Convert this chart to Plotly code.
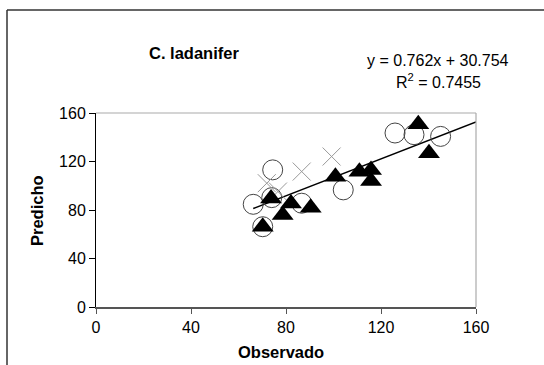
import plotly.graph_objects as go

# Data
circ_x = [66.2, 74.4, 74.0, 70.2, 86.6, 104.1, 125.9, 133.9, 145.1]
circ_y = [84.7, 113.1, 90.2, 66.2, 85.6, 96.6, 143.5, 142.1, 140.7]

cross_x = [71.9, 76.6, 86.6, 99.2]
cross_y = [102.1, 95.2, 111.7, 124.1]

tri_x = [70.2, 73.7, 78.6, 82.1, 90.4, 100.8, 110.9, 115.8, 115.8, 135.7, 140.2]
tri_y = [66.2, 89.5, 75.8, 85.4, 81.8, 107.5, 111.6, 113.0, 103.9, 150.8, 126.8]

slope = 0.762
intercept = 30.754
r2 = 0.7455

x_ticks = [0, 40, 80, 120, 160]
y_ticks = [0, 40, 80, 120, 160]

W, H = 544, 365
L, R, T, B = 96, 68, 113, 58
pw, ph = W - L - R, H - T - B

def px(x):
    return (x - L) / pw

def py(y):
    return (H - B - y) / ph

all_x = circ_x + cross_x + tri_x
line_x = [min(all_x), 160]
line_y = [slope * v + intercept for v in line_x]

FONT = "Arial, Liberation Sans, sans-serif"

fig = go.Figure()
fig.add_trace(go.Scatter(x=line_x, y=line_y, mode="lines",
                         line=dict(color="black", width=1.5), showlegend=False))
fig.add_trace(go.Scatter(x=circ_x, y=circ_y, mode="markers",
                         marker=dict(symbol="circle-open", size=20,
                                     color="#444444", line=dict(width=1)),
                         showlegend=False))
fig.add_trace(go.Scatter(x=cross_x, y=cross_y, mode="markers",
                         marker=dict(symbol="x-thin-open", size=18,
                                     color="#999999", line=dict(width=1)),
                         showlegend=False))
fig.add_trace(go.Scatter(x=tri_x, y=tri_y, mode="markers",
                         marker=dict(symbol="triangle-up", size=19,
                                     color="black", line=dict(width=0)),
                         showlegend=False))

fig.update_layout(
    width=W, height=H,
    margin=dict(l=L, r=R, t=T, b=B),
    paper_bgcolor="white", plot_bgcolor="white",
    font=dict(family=FONT, size=16, color="black"),
    xaxis=dict(range=[0, 160], tickvals=x_ticks, ticktext=[str(v) for v in x_ticks],
               showgrid=False, zeroline=False, showline=True, linecolor="#555555",
               linewidth=1.5, ticks="outside", ticklen=5, tickcolor="#555555",
               tickfont=dict(size=16)),
    yaxis=dict(range=[0, 160], tickvals=y_ticks, ticktext=[str(v) for v in y_ticks],
               showgrid=False, zeroline=False, showline=True, linecolor="black",
               linewidth=1, ticks="outside", ticklen=6, tickcolor="black",
               tickfont=dict(size=16)),
    shapes=[
        # plot-area top and right borders
        dict(type="line", xref="paper", yref="paper", x0=0, x1=1, y0=1, y1=1,
             line=dict(color="#aaaaaa", width=1.2)),
        dict(type="line", xref="paper", yref="paper", x0=1, x1=1, y0=0, y1=1,
             line=dict(color="#aaaaaa", width=1.2)),
        # outer chart frame
        dict(type="line", xref="paper", yref="paper", x0=px(7), x1=px(W + 10),
             y0=py(10), y1=py(10), line=dict(color="#333333", width=1.5)),
        dict(type="line", xref="paper", yref="paper", x0=px(7), x1=px(7),
             y0=py(10), y1=py(H + 10), line=dict(color="#333333", width=1.5)),
    ],
    annotations=[
        dict(text="<b>C. ladanifer</b>", xref="paper", yref="paper",
             x=px(194), y=py(53), showarrow=False, xanchor="center", yanchor="middle",
             font=dict(size=16.5)),
        dict(text=f"y = {slope}x + {intercept}", xref="paper", yref="paper",
             x=px(438), y=py(60), showarrow=False, xanchor="center", yanchor="middle",
             font=dict(size=16)),
        dict(text=f"R<sup>2</sup> = {r2}", xref="paper", yref="paper",
             x=px(438), y=py(81), showarrow=False, xanchor="center", yanchor="middle",
             font=dict(size=16)),
        dict(text="<b>Predicho</b>", xref="paper", yref="paper",
             x=px(37), y=py(210), showarrow=False, xanchor="center", yanchor="middle",
             textangle=-90, font=dict(size=16.5)),
        dict(text="<b>Observado</b>", xref="paper", yref="paper",
             x=px(281), y=py(352), showarrow=False, xanchor="center", yanchor="middle",
             font=dict(size=16.5)),
    ],
)

fig.write_html("out.html", config={"displayModeBar": False},
               post_script="document.body.style.margin='0';document.body.style.overflow='hidden';")
